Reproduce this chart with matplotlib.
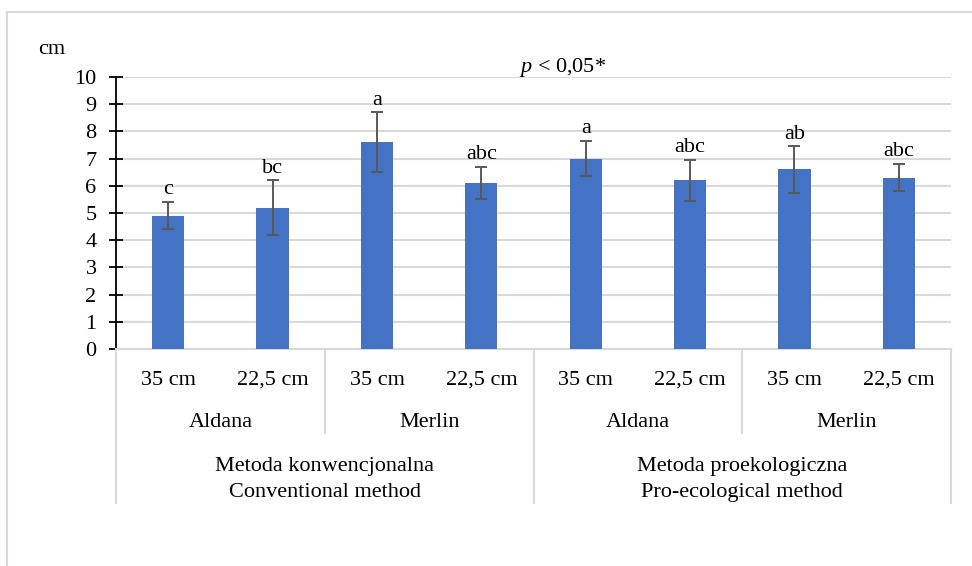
import matplotlib
matplotlib.use("Agg")
import matplotlib.pyplot as plt
from matplotlib.transforms import blended_transform_factory
from matplotlib.patches import Rectangle

# data
spacing = ["35 cm", "22,5 cm", "35 cm", "22,5 cm", "35 cm", "22,5 cm", "35 cm", "22,5 cm"]
varieties = ["Aldana", "Merlin", "Aldana", "Merlin"]
methods_pl = ["Metoda konwencjonalna", "Metoda proekologiczna"]
methods_en = ["Conventional method", "Pro-ecological method"]
means = [4.9, 5.2, 7.6, 6.1, 7.0, 6.2, 6.6, 6.3]
errors = [0.5, 1.0, 1.1, 0.6, 0.65, 0.75, 0.85, 0.5]
letters = ["c", "bc", "a", "abc", "a", "abc", "ab", "abc"]

plt.rcParams["font.family"] = ["Liberation Serif", "DejaVu Serif"]
plt.rcParams["font.size"] = 16
plt.rcParams["mathtext.fontset"] = "custom"
plt.rcParams["mathtext.rm"] = "Liberation Serif"
plt.rcParams["mathtext.it"] = "Liberation Serif:italic"

W, H = 972, 566
fig = plt.figure(figsize=(W / 100, H / 100), dpi=100)
ax = fig.add_axes([116 / W, 1 - 349 / H, (951 - 116) / W, (349 - 77) / H])

# outer chart border
fig.patches.append(Rectangle((7 / W, -0.05), 1.2, 1 - 11.5 / H + 0.05, transform=fig.transFigure,
                             fill=False, edgecolor="#d9d9d9", linewidth=1.5))

x = list(range(len(means)))
ax.bar(x, means, width=0.31, color="#4472C4", zorder=3)
ax.errorbar(x, means, yerr=errors, fmt="none", ecolor="#595959", elinewidth=1.4,
            capsize=4.5, capthick=1.4, zorder=4)
for xi, m, e, l in zip(x, means, errors, letters):
    ax.annotate(l, (xi, m + e), xytext=(0, 2), textcoords="offset points",
                ha="center", va="bottom")

ax.set_xlim(-0.5, len(means) - 0.5)
ax.set_ylim(0, 10)
ax.set_yticks(range(0, 11))
ax.yaxis.grid(True, color="#d9d9d9", linewidth=1.5, zorder=0)
ax.set_xticks([])
for s in ["top", "right"]:
    ax.spines[s].set_visible(False)
ax.spines["bottom"].set_color("#d9d9d9")
ax.spines["bottom"].set_linewidth(1.5)
ax.spines["left"].set_linewidth(1.3)
ax.tick_params(axis="y", direction="inout", length=10, width=1.3, pad=9)

fig.text(52 / W, 1 - 54 / H, "cm", ha="center", va="baseline")
ax.text(0.535, 1 - 72 / H, "$p$ < 0,05*", transform=blended_transform_factory(ax.transAxes, fig.transFigure),
        ha="center", va="baseline")

# multi-level category axis
tr = blended_transform_factory(ax.transData, fig.transFigure)
y_axis = 1 - 349 / H
for xi, s in zip(x, spacing):
    ax.text(xi, 1 - 385 / H, s, transform=tr, ha="center", va="baseline")
for i, v in enumerate(varieties):
    ax.text(2 * i + 0.5, 1 - 427 / H, v, transform=tr, ha="center", va="baseline")
for i in range(len(methods_pl)):
    ax.text(4 * i + 1.5, 1 - 471 / H, methods_pl[i], transform=tr, ha="center", va="baseline")
    ax.text(4 * i + 1.5, 1 - 497 / H, methods_en[i], transform=tr, ha="center", va="baseline")

for b in [-0.5, 3.5, 7.5]:
    ax.plot([b, b], [y_axis, 1 - 503 / H], transform=tr, color="#d9d9d9", lw=1.5, clip_on=False)
for b in [1.5, 5.5]:
    ax.plot([b, b], [y_axis, 1 - 433 / H], transform=tr, color="#d9d9d9", lw=1.5, clip_on=False)

fig.savefig("out.png", dpi=100)
